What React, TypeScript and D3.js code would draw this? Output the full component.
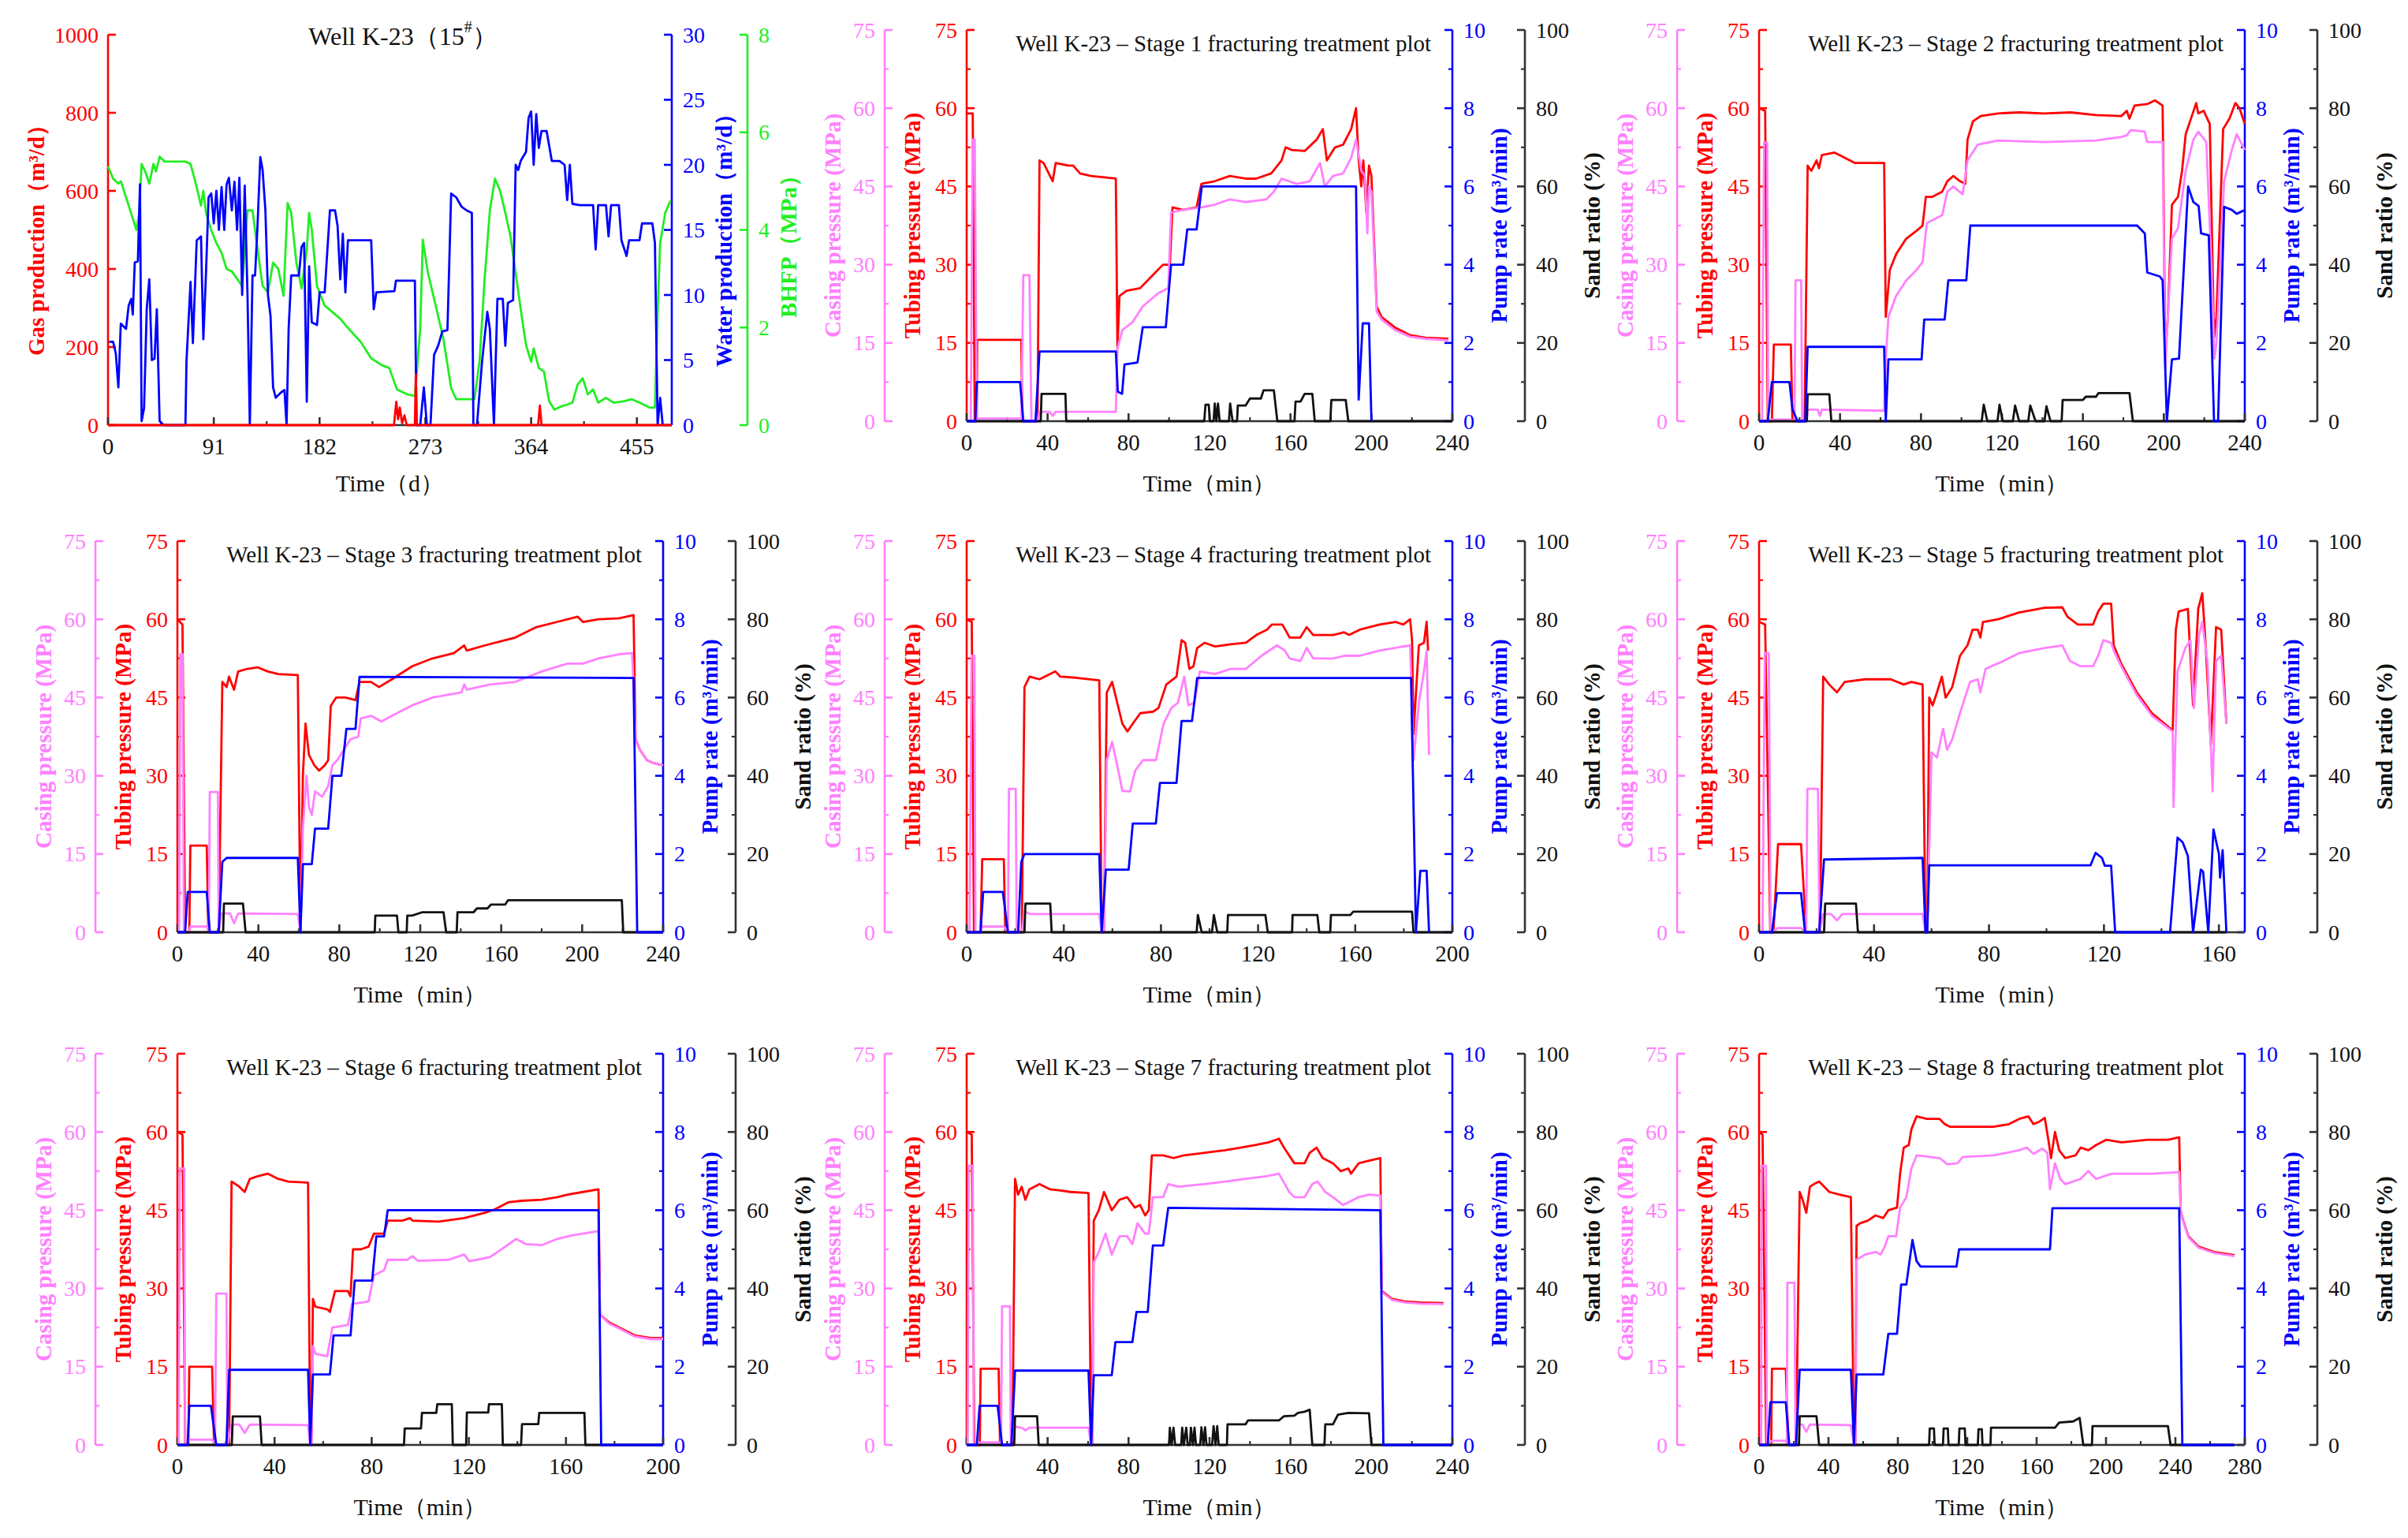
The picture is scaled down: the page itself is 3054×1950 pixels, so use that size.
import * as d3 from "d3";

type Pt = [number, number];

// ---------- tick values ----------
const pressureTicks = [0, 15, 30, 45, 60, 75];
const pressureMinor = [7.5, 22.5, 37.5, 52.5, 67.5];
const rateTicks = [0, 2, 4, 6, 8, 10];
const rateMinor = [1, 3, 5, 7, 9];
const sandTicks = [0, 20, 40, 60, 80, 100];
const sandMinor = [10, 30, 50, 70, 90];
const dayTicks = [0, 91, 182, 273, 364, 455];
const gasTicks = [0, 200, 400, 600, 800, 1000];
const waterTicks = [0, 5, 10, 15, 20, 25, 30];
const bhfpTicks = [0, 2, 4, 6, 8];

// ---------- production history (well K-23) ----------
const gasProd: Pt[] = [[0,0],[246,0],[248,60],[249.5,15],[251,45],[253,5],[255,25],[257,0],[264,0],[264.8,130],[265.6,0],[370,0],[371.5,50],[373,0],[485,0]];
const waterProd: Pt[] = [[0.9,6.4],[4.4,6.4],[6.7,5.5],[8.9,2.9],[11,7.8],[15.5,7.4],[17.8,9.2],[20,9.7],[21.3,8.5],[23,12.5],[25.7,12.6],[27.5,18.5],[28.9,0.3],[31,1.3],[33.3,8.9],[35.5,11.2],[37.7,5],[40,5.1],[42,8.9],[44.4,0.3],[48,0],[66.6,0],[67.5,4.9],[71,11],[73,6.3],[76.3,14.2],[80,14.5],[82,6.6],[84.3,11.7],[86.5,17.5],[88.8,17.8],[91,15.5],[93.2,18],[95.4,15],[97.7,18.3],[100,15],[102,18.5],[104,19],[106.5,16.5],[108.8,18.7],[111,15],[113,19],[115.4,10],[117.6,18.4],[120,10],[122,0],[124.3,11.5],[126.5,11.5],[128.7,15.5],[131,20.6],[133,19.6],[135.4,16.5],[137.6,10],[139.8,8.4],[142,2.9],[144.3,2.1],[148.7,2.5],[151.8,2.7],[153.6,0],[155.4,7.4],[157.6,11.5],[164.2,11.5],[166.5,13.7],[168.7,14],[171,1.8],[173,12.2],[175.3,7.9],[179.8,7.7],[182,10.2],[186.4,10.2],[190.9,16.5],[195.3,16.5],[197.5,15.3],[199.8,11.2],[202,14.7],[204.2,10.2],[206.4,14.2],[226.4,14.2],[228.6,8.9],[230.8,10.2],[246.4,10.3],[247.7,11.1],[264,11.1],[265.4,0],[268.6,0],[271.7,2.9],[274.3,0],[277.4,0],[280.5,5.4],[284,6.1],[287.6,7.2],[292,7.3],[293.9,13.5],[295.2,17.8],[299.6,17.5],[304,16.8],[308.5,16.5],[313,16.3],[314.3,0],[317.4,0],[321.8,4.9],[326.3,8.7],[328.5,7.4],[332,0],[335,9.7],[339.6,9.7],[341.8,6.1],[344,9.4],[348.5,9.6],[350.7,20],[352.9,19.6],[355,20.3],[359.6,21],[361.8,23.6],[364,24.1],[366.2,20],[368.4,23.9],[370.6,21.3],[372.9,22.6],[377.3,22.6],[381.8,20.3],[388.4,20.3],[392.8,20],[395,17.3],[397.3,20],[399.5,17],[406,16.9],[417.3,16.9],[419.5,13.5],[421.7,16.9],[428.4,16.9],[430.6,14.5],[432.8,16.9],[439.5,16.9],[441.7,14.2],[446.1,13],[448.3,14.2],[457.2,14.2],[459.4,15.5],[468.3,15.5],[470.5,14],[472.8,0],[475,2.1],[477.2,0]];
const bhfp: Pt[] = [[0,5.3],[4.4,5.05],[8.9,4.95],[11,5.0],[17.8,4.5],[24.4,4.0],[26.6,4.3],[28.9,5.35],[32,5.2],[35.5,4.95],[39,5.35],[41.3,5.2],[44.4,5.5],[48.8,5.4],[66.6,5.4],[71,5.35],[75.5,4.95],[80,4.5],[82,4.8],[84.3,4.35],[88.8,4.0],[93.2,3.73],[97.7,3.53],[102,3.2],[106.5,3.15],[111,3.0],[115.4,2.85],[120,4.4],[124.3,4.4],[128.7,3.6],[133,2.85],[137.6,2.72],[142,3.33],[146.5,3.2],[151,2.65],[154.5,4.55],[157.6,4.35],[162,3.33],[166.5,2.8],[171,3.6],[173,4.35],[175.3,4.0],[179.8,2.85],[186.4,2.45],[199.8,2.18],[204.2,2.05],[217.5,1.7],[226.4,1.37],[235.3,1.23],[242,1.17],[248.6,0.73],[257.5,0.63],[264,0.6],[268.6,1.98],[270.8,3.8],[275.2,3.12],[281.9,2.45],[288.5,1.77],[295.2,0.76],[299.6,0.53],[315.2,0.53],[319.6,1.3],[324,3.0],[328.5,4.4],[332.9,5.05],[337.3,4.8],[341.8,4.35],[346.2,3.87],[350.7,3.12],[355,2.38],[359.6,1.64],[364,1.3],[366.2,1.57],[370.6,1.17],[375,1.1],[379.5,0.49],[384,0.32],[390.6,0.39],[395,0.42],[399.5,0.46],[404,0.83],[408.4,0.96],[412.8,0.63],[417.3,0.73],[421.7,0.46],[428.4,0.56],[435,0.46],[444,0.49],[450.6,0.53],[457.2,0.46],[466,0.36],[470.5,0.36],[472.8,2.3],[475,3.73],[479.4,4.35],[483.9,4.6]];

// ---------- stage 1 ----------
const tubing1: Pt[] = [[0,59],[3,59],[4,0],[5,0],[5.2,15.6],[27,15.6],[27.5,0],[35,0],[36,50],[38,49.5],[42.5,46],[44,49.5],[50,49],[52.6,49],[56,47.5],[61.5,47],[73.7,46.5],[74.5,14],[75.5,24],[79,25],[85.7,25.5],[92,28],[97,30],[100.4,30],[101.7,41],[107,40.5],[113.6,41],[116,45.5],[122.5,46],[130,47],[137.8,46.5],[143,46.5],[150.5,47.5],[155.6,50],[157.6,52.5],[160.6,52],[167,51.8],[173,54],[176,56],[178,50],[182,52.5],[186,53],[190,56],[192.4,60],[193.7,50],[195,45],[196,50],[197.5,40],[198.8,49],[200,47],[202.6,22],[205,20],[211.5,18],[219,16.5],[226.7,16],[238,15.8]];
const casing1: Pt[] = [[0,0],[2,0],[3,54],[4,54],[5,0],[5.5,0.5],[27,0.5],[28,28],[31,28],[32,0],[35,0],[36,1.8],[41,1.8],[42.5,1],[44,1.8],[73.7,1.8],[74.5,14],[77,17.5],[82,19],[87,22],[94.5,24.5],[99.6,25.5],[101,40],[107,40.5],[116,41],[122.5,41.5],[130,42.5],[137.8,42],[148,42.5],[151.8,44],[155.6,46.5],[163,45.5],[169.5,46],[174.6,49.5],[177,45],[181,47],[186,47.5],[190,50.5],[192.4,54],[195,48],[196.8,47],[198,36],[198.8,45],[200,44],[202.6,21],[205,19.5],[211.5,17.5],[219,16.2],[226.7,15.8],[238,15.5]];
const rate1: Pt[] = [[0,0],[4.3,0],[5,1.0],[26.4,1.0],[28,0],[34,0],[36,1.78],[73.7,1.78],[74.7,0.75],[76.8,0.7],[78,1.45],[84.4,1.5],[87,2.4],[98.4,2.4],[101,4.0],[107,4.0],[109,4.9],[113.6,4.9],[116.2,6.0],[192.4,6.0],[193.7,0.55],[195.7,2.5],[198.8,2.5],[200,0]];
const sand1: Pt[] = [[0,0],[36.6,0],[37,7],[48.8,7],[49.2,0],[117.4,0],[118,4.2],[119.6,4.2],[120.2,0],[122,0],[122.6,4.5],[123.4,0],[124.2,4.5],[125,0],[129.6,0],[130.2,4.5],[131.4,0],[133.6,0],[134,4],[137.8,4],[140,5.8],[145.4,5.8],[146.7,7.9],[151.8,7.9],[153.5,0],[162,0],[162.5,5],[165,5],[167,7],[170.8,7],[172,0],[179.7,0],[180.2,5.4],[187.3,5.4],[188.6,0],[240,0]];

// ---------- stage 2 ----------
const tubing2: Pt[] = [[0,60],[3,59.5],[4.3,0],[6.3,0],[7.3,14.7],[15.7,14.7],[16.5,0],[22.5,0],[24,49],[25.8,48],[28.4,50],[29.6,48.5],[31,51],[37.3,51.5],[42.3,50.5],[47.4,49.5],[61.8,49.5],[62.6,20],[64.6,29],[67.7,32],[72.7,35],[77.8,36.5],[80.8,37.5],[82.4,43],[85.4,43],[90.5,44],[93,46],[96,47],[99.3,46],[101.9,45.5],[103,54],[105.7,57.5],[109.5,58.5],[118,59],[128.5,59.2],[141,59],[153.8,59.2],[166.5,58.7],[179,58.5],[181.7,59.5],[183,58],[185.5,60.5],[191.8,60.8],[195.6,61.5],[199.4,60.5],[200.7,13],[202,20],[204,41.5],[207,43],[209,48],[210.8,55],[213.4,58],[216,61],[217,59],[219.7,59.5],[222.7,57],[224.8,16],[226,20],[229.3,56],[232.4,58],[235.4,61],[237.4,60],[240,57]];
const casing2: Pt[] = [[0,0],[1.5,0],[2.5,53.4],[4,53.4],[4.5,0],[6.3,0.3],[15.7,0.3],[17.5,0],[18,27],[20.8,27],[21.3,0],[23.5,0],[24,2.2],[29,2.2],[30,1],[31,2.2],[61.8,2],[62.6,12],[63.9,20],[67.7,24],[72.7,27],[77.8,29],[80.8,30.5],[82.9,38],[90.5,39.5],[93,44],[96,45],[100.6,43.5],[103,50],[108,53],[118,53.8],[141,53.5],[166.5,53.8],[179,54.5],[181.7,54.8],[183.7,55.8],[190.5,55.5],[191.8,53.5],[199.4,53.5],[200.7,10],[202,20],[204,35],[207,37],[210.8,48],[214.6,54],[217,55.5],[221,53.5],[223.5,30],[225,12],[226,15],[229.8,46],[233.6,52],[236,55],[240,52]];
const rate2: Pt[] = [[0,0],[4.3,0],[6.3,1.0],[15,1.0],[16.5,0.3],[19,0],[22.8,0],[24,1.9],[61.8,1.9],[62.6,0],[63.9,1.58],[80.3,1.58],[81.6,2.6],[91.7,2.6],[93.5,3.6],[102.4,3.6],[104.4,5.0],[186.8,5.0],[190.6,4.8],[191.8,3.8],[198,3.7],[199.4,3.6],[201.5,0],[204,1.58],[207.5,1.6],[212,6.0],[214.6,5.6],[217.2,5.5],[218.4,4.8],[222.2,4.75],[224.8,0],[226.8,0],[229.8,5.48],[233.6,5.4],[236,5.3],[240,5.4]];
const sand2: Pt[] = [[0,0],[23.6,0],[24,6.9],[34.7,6.9],[35.7,0],[110,0],[111,4.2],[112.8,0],[117.8,0],[118.8,4.2],[120.4,0],[125.4,0],[126.5,4],[128.5,0],[133,0],[134,4],[136.6,0],[141,0],[142,3.8],[144,0],[149.5,0],[150,5.4],[160,5.4],[161.4,6.25],[166.5,6.25],[167.7,7.2],[183,7.2],[184.7,0],[240,0]];

// ---------- stage 3 ----------
const tubing3: Pt[] = [[0,60],[2.5,59],[3.8,0],[5.9,0],[6.4,16.6],[14.5,16.6],[15.3,0],[20.4,0],[22.2,48],[24.3,47],[25.5,49],[28,46.5],[30,50],[34.5,50.5],[39.6,50.8],[44.7,50],[49.8,49.5],[59.5,49.3],[60.8,0],[62,30],[63.3,40],[65,34],[67.7,32],[70,31],[72.8,32],[74.5,33],[75.8,43.4],[78.4,45],[83,45],[88,44.5],[90,48],[95.7,48],[99.6,47],[106,48.5],[116,51],[126,52.5],[136.6,53.5],[141.7,55],[143,54],[152,55],[162,56],[167,56.5],[177.4,58.5],[187.6,59.5],[197.8,60.5],[200.4,59.5],[208,60],[218.3,60.2],[225.4,60.8],[226.4,37],[228.5,35],[232,33],[234.8,32.5],[240,32]];
const casing3: Pt[] = [[0,0],[0.8,0],[1.5,53.3],[2.5,53.3],[3.2,0],[5.9,0],[6.4,1.1],[14.5,1.1],[15.5,0],[16,26.9],[20,26.9],[20.4,0],[21.7,3.6],[26,3.6],[28,1.75],[30,3.6],[59.5,3.5],[60.8,0],[62,19.9],[63.8,30],[65,24],[66.4,22.5],[68,27],[71.5,26],[74.5,28],[76.6,32],[79,33],[85.5,37],[89.4,37.5],[90.6,41],[95.7,41.5],[100.8,40.4],[106,41.5],[116,43.5],[126,45],[140.4,46],[141.7,47.5],[143,46.5],[154.5,47.5],[167,48],[180,50],[192.7,51.5],[200.4,51.5],[208,52.5],[218.3,53.3],[224.7,53.5],[226.4,37],[228.5,35],[232,33],[234.8,32.5],[240,32]];
const rate3: Pt[] = [[0,0],[3.8,0],[5.1,1.03],[14.5,1.03],[16,0],[20.4,0],[22.2,1.8],[24.3,1.9],[59.5,1.9],[60.8,0],[62,1.74],[66.4,1.74],[68,2.65],[74.5,2.65],[76.6,4.0],[81,4.0],[83.5,5.2],[88,5.2],[90,6.53],[225.4,6.5],[227.2,0],[240,0]];
const sand3: Pt[] = [[0,0],[22.6,0],[23,7.35],[32.4,7.35],[33.7,0],[97.5,0],[97.8,4.25],[108.5,4.25],[109.2,0],[113.3,0],[113.6,4.25],[116,4.25],[120.8,5.1],[131.5,5.1],[132.8,0],[138,0],[138.4,5.1],[146.3,5.1],[148,6.1],[153.2,6.1],[155,7.1],[162,7.1],[163.4,8.2],[219.6,8.2],[220.3,0],[240,0]];

// ---------- stage 4 ----------
const tubing4: Pt[] = [[0,60],[2.1,59.5],[3,0],[5.7,0],[6.4,14],[15.3,14],[15.9,0],[22.7,0],[23.8,47],[25.9,49],[30,48.5],[36.5,50],[38.6,49],[45,48.8],[54.6,48.3],[55.6,0],[56.5,0],[57.7,46],[59.9,48],[62,44],[64.1,40],[66.2,38.5],[68.4,40],[71.5,42],[76.8,42.3],[79,43],[82.2,47.5],[86.4,49],[88.5,56],[90,55.5],[91.7,50.5],[93.4,51],[94.9,54.5],[98,55.5],[102.3,54.8],[108.7,55.2],[115,55.5],[119.3,57],[123.6,58],[125.7,59],[130,59],[133,56.5],[137.4,56.5],[140,58.5],[142.7,57],[151,57],[155.4,57.5],[157.5,57],[161.8,58],[170,59],[176.6,59.5],[179.8,59],[182.6,60],[183.4,56],[184,38],[186.2,55],[188.3,55.5],[189.4,59.5],[190,54]];
const casing4: Pt[] = [[0,0],[1.2,0],[2,53],[3.2,53],[3.6,0],[5.7,0],[6.4,1.1],[15.3,1.1],[17,0],[17.4,27.5],[20.2,27.5],[20.6,0],[22.7,0],[23.8,4],[26,3.5],[54.6,3.5],[55.6,0],[56.5,0],[57.7,33],[59.9,36.5],[62,32],[64.1,27.1],[67.3,27],[69.4,31],[72.6,33],[77.9,33],[81.1,40],[84.3,43],[87,44],[89.6,49],[91.3,43.5],[93.8,44],[96,50],[102.3,49.5],[108.7,50.5],[115,50.5],[121.4,53],[127.8,55],[131,54],[133,52.5],[137.4,52],[140,54.5],[142.7,52.5],[151,52.5],[155.4,53],[161.8,53],[170,54],[182.6,55],[183.4,42],[184,33],[186.2,44],[188.3,50],[189.4,54],[190.4,34]];
const rate4: Pt[] = [[0,0],[5.7,0],[6.8,1.03],[14.9,1.03],[17,0],[21.2,0],[22.5,1.8],[23.8,2.0],[54.6,2.0],[55.6,0],[57.3,1.6],[66.7,1.6],[68.4,2.78],[77.9,2.78],[79.6,3.82],[86.4,3.82],[88.5,5.4],[92.8,5.4],[94.9,6.5],[183,6.5],[185,0],[186.8,1.57],[189.4,1.57],[190.4,0]];
const sand4: Pt[] = [[0,0],[23.8,0],[24.2,7.35],[34.4,7.35],[35,0],[94.7,0],[95.2,4.4],[96.8,0],[101,0],[101.8,4.4],[103.2,0],[107.3,0],[107.6,4.4],[123,4.4],[124,0],[134,0],[134.2,4.4],[144.4,4.4],[145.2,0],[149.7,0],[150,4.4],[158,4.4],[159.2,5.26],[183.4,5.26],[184,0],[200,0]];

// ---------- stage 5 ----------
const tubing5: Pt[] = [[0,59.5],[2.1,59],[3.9,0],[5,0],[6.6,16.9],[14.6,16.9],[16.4,0],[21.2,0],[22.3,49],[24.4,47.5],[27.1,46],[29.8,48],[36.9,48.5],[45.8,48.5],[50.3,47.5],[53,48],[56.9,47.5],[57.9,0],[58.5,0],[59.2,45],[60.4,43.5],[61.9,46],[63.6,49],[64.9,45],[67.2,47],[69.9,53],[72.5,55],[74.3,58],[76.1,58],[77,56.5],[77.9,59.5],[83.2,60],[90.4,61.3],[99.3,62.2],[105.5,62.3],[107.3,60.5],[110.9,59],[116.2,59],[118,61.5],[119.8,63],[122.5,63],[123.4,55],[126,51.5],[131.4,46],[136.7,42],[143.9,38.7],[145,58],[146,61.5],[149.2,62],[151,43.5],[152.8,62],[154.2,65],[155.4,55],[157.2,36],[159,58.5],[160.8,58],[162.6,40]];
const casing5: Pt[] = [[0,0],[1.2,0],[2,53.5],[3.4,53.5],[4,0],[6.6,0.8],[14.6,0.8],[16.4,0],[16.8,27.5],[20.5,27.5],[21,0],[22.3,3.5],[25,3.5],[27.1,2.3],[29,3.5],[56.9,3.5],[57.9,0],[58.5,0],[60,34.5],[61.9,33.5],[64,39],[65.4,35],[67.2,37],[69.9,42],[73.4,48],[76.1,48.5],[77,46],[78.8,50.5],[85,52],[90.4,53.5],[99.3,54.5],[105.5,55],[108.2,52],[111.8,51],[116.2,51],[118,53],[119.8,56],[122.5,55.5],[123.4,54],[126,51],[131.4,45.5],[136.7,41.5],[143.9,38.5],[144.2,24],[145.6,50],[148.3,54.5],[150.1,56],[151.3,43],[153.1,57],[154.2,59.5],[156,52],[157.8,27],[159,52],[160.8,53],[162.6,40]];
const rate5: Pt[] = [[0,0],[4.5,0],[6.2,1.0],[14.6,1.0],[16,0],[20.9,0],[22.6,1.86],[56.9,1.9],[57.9,0],[58.5,0],[59.2,1.71],[115.3,1.71],[117.1,2.03],[119.3,1.9],[120.3,1.7],[122.5,1.7],[123.9,0],[143,0],[145.6,2.42],[147.4,2.3],[149.2,1.95],[151,0],[153.7,1.6],[154.5,1.55],[156.3,0],[158.1,2.63],[160,2.0],[160.4,1.4],[161.3,2.1],[162.6,0]];
const sand5: Pt[] = [[0,0],[22.6,0],[23,7.35],[33.7,7.35],[34.4,0],[162.6,0]];

// ---------- stage 6 ----------
const tubing6: Pt[] = [[0,60],[2.1,59.5],[3.2,0],[4.5,0],[4.9,15],[14.3,15],[15.1,0],[21.3,0],[22.3,50.5],[25.5,49.5],[27.7,48.5],[29.8,51],[33,51.5],[37.2,52],[41.5,51],[45.7,50.5],[53.8,50.3],[54.7,0],[55.2,0],[55.8,28],[56.8,26.5],[61.7,26],[62.8,25.5],[64.9,29.5],[70.2,29.5],[71.3,28.5],[72.3,37.5],[75.5,37.5],[78.7,38],[80.9,40.5],[85.1,40.5],[86.6,43],[92.6,43],[95.8,43.5],[96.8,43],[107.5,42.8],[118.1,43.5],[126.6,44.5],[130.9,45.2],[136.2,46.5],[141.5,46.8],[150,47],[156.4,47.5],[160.7,48],[167,48.5],[173.4,49],[174,25],[177.7,23.5],[182,22.5],[188.3,21],[194.7,20.5],[200,20.5]];
const casing6: Pt[] = [[0,0],[0.5,0],[1,53],[2.8,53],[3.2,0],[4.9,1],[14.3,1],[15.5,0],[16,29],[20.2,29],[20.6,0],[22.3,3.9],[25.5,3.9],[27.7,2.3],[29.8,3.9],[53.8,3.8],[54.7,0],[55.2,0],[55.8,19],[56.8,17.5],[61.7,17],[63.8,22.5],[70.2,23],[71.9,27],[78.7,27.5],[80.9,32.5],[85.1,33.5],[86.6,35.5],[94.7,35.5],[96.8,36.2],[99,35.3],[111.7,35.5],[118.1,36.5],[120.2,35.2],[128.7,36],[135,38],[139.4,39.5],[143.6,38.5],[150,38.3],[156.4,39.5],[162.8,40.2],[173.4,41],[174,25],[177.7,23.3],[182,22.3],[188.3,20.8],[194.7,20.3],[200,20.3]];
const rate6: Pt[] = [[0,0],[4.2,0],[4.9,1.0],[13.8,1.0],[16,0],[20.2,0],[21.3,1.92],[53.8,1.92],[54.7,0],[55.8,1.8],[62.8,1.8],[64.3,2.8],[71.3,2.8],[73,4.2],[80.2,4.2],[81.9,5.33],[85.1,5.33],[86.6,6.0],[173.4,6.0],[174.5,0],[200,0]];
const sand6: Pt[] = [[0,0],[22.4,0],[22.8,7.3],[34,7.3],[34.7,0],[93.3,0],[93.6,4.2],[100.3,4.2],[100.7,8.2],[106.6,8.2],[107,10.4],[113,10.4],[113.4,0],[118.9,0],[119.2,8.3],[128,8.3],[128.3,10.4],[133.6,10.4],[134,0],[141.5,0],[141.9,5.3],[148.6,5.3],[149,8.2],[167.6,8.2],[168,0],[200,0]];

// ---------- stage 7 ----------
const tubing7: Pt[] = [[0,60],[2.5,59.5],[3.8,0],[6.5,0],[6.9,14.6],[15.8,14.6],[16.5,0],[22.6,0],[23.9,51],[25.4,48],[27.2,49.5],[29,47],[31,49],[36,50],[41.2,49],[46.3,48.8],[51.3,48.5],[60.2,48.3],[61.5,0],[62,0],[62.8,43],[65.3,45],[67.9,48.5],[71.7,45],[75.5,47],[79.3,47.5],[83.1,45.5],[85.7,46],[88.2,44],[90,45],[91.5,55.5],[97.1,55.5],[102.2,55],[107.3,55.5],[117.4,56],[127.6,56.5],[135.2,57],[142.9,57.5],[149.2,58],[154.3,58.7],[156.8,57],[161.9,54],[167,54],[169.5,56],[172.9,57],[175.9,55],[181,54],[184.8,52.5],[188.6,53],[189.9,52],[193.7,54],[198.8,54.5],[204.4,55],[205.1,29.5],[210.2,28],[216.6,27.5],[224.2,27.3],[235.6,27.2]];
const casing7: Pt[] = [[0,0],[0.5,0],[1,53.5],[3,53.5],[3.5,0],[6.9,0.5],[15.8,0.5],[17,0],[17.5,26.6],[21.4,26.6],[21.8,0],[23.9,3.5],[27,3.3],[29,2.8],[31,3.3],[60.2,3.3],[61.5,0],[62,0],[62.8,35],[65.3,37],[68.6,40.5],[71.7,36.5],[75.5,40],[79.3,40],[81.9,38.5],[84.4,42.5],[88.2,40.5],[90,40.5],[92,47.5],[97.1,47.5],[99.6,50],[104.7,49.5],[117.4,50],[127.6,50.5],[137.8,51],[148,51.5],[154.3,52],[159.4,48.5],[161.9,47.5],[167,47.5],[170.8,50],[173.4,50.5],[177.2,48.5],[181,47.5],[186,46],[188.6,46.5],[193.7,47.5],[198.8,48],[204.4,47.8],[205.1,29.3],[210.2,27.8],[216.6,27.3],[224.2,27.1],[235.6,27]];
const rate7: Pt[] = [[0,0],[5,0],[6.4,1.0],[15.3,1.0],[17.5,0],[22.1,0],[23.9,1.9],[60.2,1.9],[61.5,0],[62.8,1.78],[71.7,1.78],[73.5,2.63],[81.9,2.63],[83.9,3.4],[89.5,3.4],[92,5.1],[97.1,5.1],[99.6,6.06],[204.4,6.0],[205.9,0],[240,0]];
const sand7: Pt[] = [[0,0],[23.5,0],[23.9,7.35],[34.8,7.35],[35.6,0],[100,0],[100.4,4.4],[101.3,0],[102.2,4.4],[103,0],[106,0],[106.5,4.4],[107.3,0],[108.5,4.4],[109.2,0],[110.3,0],[110.8,4.4],[111.8,0],[112.6,4.4],[113.3,0],[115.4,0],[116,4.5],[117,0],[117.8,4.5],[118.5,0],[121.3,0],[122,4.8],[123,0],[123.8,4.8],[124.5,0],[128.6,0],[128.9,5.26],[137.8,5.26],[139,6.26],[154.3,6.26],[156.8,7.35],[161.9,7.5],[163.7,8.2],[167,8.5],[169.5,9],[170.8,0],[176.8,0],[177.2,5.26],[181,5.26],[183.5,7.76],[188.6,8.2],[198.8,8.1],[200,0],[240,0]];

// ---------- stage 8 ----------
const tubing8: Pt[] = [[0,60],[2,59.5],[4.1,0],[7,0],[7.4,14.6],[15.4,14.6],[16.9,0],[21.3,0],[23.4,48.5],[25.1,47],[27.2,44.5],[29.3,49.5],[31.6,50],[34.6,50.5],[37.6,49.5],[40.5,48.5],[46.4,48],[52.9,47.5],[54.7,0],[55.5,0],[56.2,42],[58.3,42.5],[62.7,43],[67.1,44],[71.6,43.5],[74.5,45],[79.5,45.5],[81.3,52],[83.4,57],[86.3,57.5],[87.8,60.5],[90.8,63],[96.7,62.5],[104.1,62.5],[107,61.5],[110,61],[120.3,61],[135.1,61],[144,61.5],[149.9,62.5],[155.2,63],[158.2,61.5],[161.7,62],[164.7,62.7],[167,58],[168.3,55],[170.6,60],[173,56.5],[176.5,55],[182.4,55.5],[185.4,57],[189.8,56.5],[194.3,57.5],[200.2,58.5],[209,58],[223.8,58.5],[235.7,58.5],[242.2,59],[243,45],[244.5,43],[247.5,40],[253.4,38],[262.3,37],[274.1,36.4]];
const casing8: Pt[] = [[0,0],[1.2,0],[1.5,53.5],[4,53.5],[4.5,0],[7.4,0.8],[15.4,0.8],[16,0],[16.3,31.1],[20.4,31.1],[21,0],[21.3,3.9],[25,3.9],[27.2,2.5],[29.3,3.9],[52.9,3.8],[54.7,0],[55.5,0],[56.2,35.5],[61.2,36.5],[67.1,37],[70.1,36.5],[72.4,38],[74.5,40],[79,40],[81.3,45.5],[84.9,47.5],[87.8,53],[90.8,55.5],[96.7,55.3],[104.1,55],[108.5,53.8],[114.4,54],[117.4,55.2],[135.1,55.5],[149.9,56.5],[154.3,57],[158.2,55.8],[163.2,56.8],[166.2,56],[167.7,49],[170.6,54],[173.6,51],[176.5,50],[185.4,51],[189.8,52.5],[194.3,51],[203.1,52],[215,52],[226.8,52],[242.2,52.3],[243,45],[244.5,42.8],[247.5,39.8],[253.4,37.8],[262.3,36.8],[274.1,36.2]];
const rate8: Pt[] = [[0,0],[5,0],[6.5,1.09],[15.4,1.09],[17.4,0],[21.3,0],[23.4,1.92],[52.9,1.92],[54.7,0],[56.2,1.8],[71.6,1.8],[74.5,2.84],[79.5,2.84],[81.9,4.1],[84.9,4.1],[88.4,5.24],[90.8,4.7],[93.1,4.56],[113.8,4.56],[115.3,5.0],[167.7,5.0],[169.1,6.05],[242.2,6.05],[244,0],[274,0]];
const sand8: Pt[] = [[0,0],[23,0],[23.4,7.35],[33.1,7.35],[34.6,0],[98,0],[98.4,4.2],[100.8,4.2],[101.2,0],[106,0],[106.4,4.2],[108.8,4.2],[109.2,0],[115.1,0],[115.5,4.2],[118.6,4.2],[119,0],[126.1,0],[126.5,4],[128.4,4],[128.8,0],[133.4,0],[133.7,4.4],[170.6,4.4],[173,5.7],[181,6],[184.8,6.9],[186.9,0],[191.9,0],[192.2,4.8],[235.7,4.8],[237.2,0],[274,0]];

const stageTimeMax = [240, 240, 240, 200, 169, 200, 240, 280];
const stageTimeTicks = [
  [0, 40, 80, 120, 160, 200, 240],
  [0, 40, 80, 120, 160, 200, 240],
  [0, 40, 80, 120, 160, 200, 240],
  [0, 40, 80, 120, 160, 200],
  [0, 40, 80, 120, 160],
  [0, 40, 80, 120, 160, 200],
  [0, 40, 80, 120, 160, 200, 240],
  [0, 40, 80, 120, 160, 200, 240, 280],
];

// ---------- layout / style ----------
const W = 3054;
const H = 1950;
const COL_X = [225, 1226, 2231];
const ROW_Y = [38, 686, 1336];
const PLOT_W = 616;
const PLOT_H = 496;
const SLOTS: [number, number][] = [[0, 1], [0, 2], [1, 0], [1, 1], [1, 2], [2, 0], [2, 1], [2, 2]];

const PINK = "#ff80ff";
const RED = "#ff0000";
const BLUE = "#0000ff";
const GREEN = "#22ee22";
const INK = "#111";
const AXIS = "#333";
const FONT = "'Liberation Serif', 'Times New Roman', serif";
const LW = 2.8;
const TICK_FS = 28;

type Scale = d3.ScaleLinear<number, number>;

function VAxis({ x, y, ticks, minor = [], color, textColor, inward, side }: {
  x: number; y: Scale; ticks: number[]; minor?: number[]; color: string; textColor?: string;
  inward: 1 | -1; side: "left" | "right";
}) {
  const [d0, d1] = y.domain();
  return (
    <g>
      <line x1={x} x2={x} y1={y(d0)} y2={y(d1)} stroke={color} strokeWidth={2.6} />
      {ticks.map((t) => (
        <line key={"M" + t} x1={x} x2={x + inward * 10} y1={y(t)} y2={y(t)} stroke={color} strokeWidth={2.6} />
      ))}
      {minor.map((t) => (
        <line key={"m" + t} x1={x} x2={x + inward * 5} y1={y(t)} y2={y(t)} stroke={color} strokeWidth={2.2} />
      ))}
      {ticks.map((t) => (
        <text key={"l" + t} x={side === "left" ? x - 12 : x + 14} y={y(t)}
          textAnchor={side === "left" ? "end" : "start"} dominantBaseline="central"
          fontSize={TICK_FS} fill={textColor ?? color}>{t}</text>
      ))}
    </g>
  );
}

function XAxis({ x, y0, ticks, minor = [] }: { x: Scale; y0: number; ticks: number[]; minor?: number[] }) {
  const [r0, r1] = x.range();
  return (
    <g>
      <line x1={r0} x2={r1} y1={y0} y2={y0} stroke={AXIS} strokeWidth={2.6} />
      {ticks.map((t) => (
        <line key={"M" + t} x1={x(t)} x2={x(t)} y1={y0} y2={y0 - 10} stroke={AXIS} strokeWidth={2.6} />
      ))}
      {minor.map((t) => (
        <line key={"m" + t} x1={x(t)} x2={x(t)} y1={y0} y2={y0 - 5} stroke={AXIS} strokeWidth={2.2} />
      ))}
      {ticks.map((t) => (
        <text key={"l" + t} x={x(t)} y={y0 + 27} textAnchor="middle" dominantBaseline="central"
          fontSize={TICK_FS + 1} fill={INK}>{t}</text>
      ))}
    </g>
  );
}

function VLabel({ x, y, color, children }: { x: number; y: number; color: string; children: React.ReactNode }) {
  return (
    <text transform={`translate(${x},${y}) rotate(-90)`} textAnchor="middle" dominantBaseline="central"
      fontSize={29} fontWeight="bold" fill={color}>{children}</text>
  );
}

function Series({ data, x, y, color }: { data: Pt[]; x: Scale; y: Scale; color: string }) {
  const line = d3.line<Pt>().x((d) => x(d[0])).y((d) => y(d[1]));
  return <path d={line(data) ?? ""} fill="none" stroke={color} strokeWidth={LW} strokeLinejoin="round" />;
}

function StagePanel({ idx, tubing, casing, rate, sand }: {
  idx: number; tubing: Pt[]; casing: Pt[]; rate: Pt[]; sand: Pt[];
}) {
  const [row, col] = SLOTS[idx];
  const left = COL_X[col];
  const right = left + PLOT_W;
  const top = ROW_Y[row];
  const bottom = top + PLOT_H;
  const pinkX = left - 104;
  const blackX = right + 92;
  const xMax = stageTimeMax[idx];
  const ticks = stageTimeTicks[idx];

  const x = d3.scaleLinear().domain([0, xMax]).range([left, right]);
  const yP = d3.scaleLinear().domain([0, 75]).range([bottom, top]);
  const yR = d3.scaleLinear().domain([0, 10]).range([bottom, top]);
  const yS = d3.scaleLinear().domain([0, 100]).range([bottom, top]);
  const minorX = ticks.map((t) => t + 20).filter((t) => t < xMax);
  const midY = (top + bottom) / 2;

  return (
    <g>
      <VAxis x={pinkX} y={yP} ticks={pressureTicks} minor={pressureMinor} color={PINK} inward={1} side="left" />
      <VAxis x={left} y={yP} ticks={pressureTicks} minor={pressureMinor} color={RED} inward={1} side="left" />
      <VAxis x={right} y={yR} ticks={rateTicks} minor={rateMinor} color={BLUE} inward={-1} side="right" />
      <VAxis x={blackX} y={yS} ticks={sandTicks} minor={sandMinor} color={AXIS} textColor={INK} inward={-1} side="right" />
      <XAxis x={x} y0={bottom} ticks={ticks} minor={minorX} />

      <Series data={tubing} x={x} y={yP} color={RED} />
      <Series data={casing} x={x} y={yP} color={PINK} />
      <Series data={sand} x={x} y={yS} color={INK} />
      <Series data={rate} x={x} y={yR} color={BLUE} />

      <VLabel x={pinkX - 66} y={midY} color={PINK}>Casing pressure (MPa)</VLabel>
      <VLabel x={left - 69} y={midY} color={RED}>Tubing pressure (MPa)</VLabel>
      <VLabel x={right + 59} y={midY} color={BLUE}>Pump rate (m³/min)</VLabel>
      <VLabel x={blackX + 85} y={midY} color={INK}>Sand ratio (%)</VLabel>

      <text x={right - 27} y={top + 17} textAnchor="end" dominantBaseline="central" fontSize={29} fill={INK}>
        {`Well K-23 – Stage ${idx + 1} fracturing treatment plot`}
      </text>
      <text x={(left + right) / 2} y={bottom + 78} textAnchor="middle" dominantBaseline="central" fontSize={30} fill={INK}>
        Time（min）
      </text>
    </g>
  );
}

function ProductionPanel() {
  const left = 137;
  const right = 852;
  const greenX = 948;
  const top = 44;
  const bottom = 539;
  const x = d3.scaleLinear().domain([0, 485]).range([left, right]);
  const yG = d3.scaleLinear().domain([0, 1000]).range([bottom, top]);
  const yW = d3.scaleLinear().domain([0, 30]).range([bottom, top]);
  const yB = d3.scaleLinear().domain([0, 8]).range([bottom, top]);
  const midY = (top + bottom) / 2 + 6;
  const minorX = dayTicks.map((t) => t + 45.5).filter((t) => t < 485);

  return (
    <g>
      <VAxis x={left} y={yG} ticks={gasTicks} color={RED} inward={1} side="left" />
      <VAxis x={right} y={yW} ticks={waterTicks} color={BLUE} inward={-1} side="right" />
      <VAxis x={greenX} y={yB} ticks={bhfpTicks} color={GREEN} inward={-1} side="right" />
      <XAxis x={x} y0={bottom} ticks={dayTicks} minor={minorX} />

      <Series data={bhfp} x={x} y={yB} color={GREEN} />
      <Series data={waterProd} x={x} y={yW} color={BLUE} />
      <Series data={gasProd} x={x} y={yG} color={RED} />

      <VLabel x={46} y={midY} color={RED}>Gas production（m³/d）</VLabel>
      <VLabel x={918} y={midY} color={BLUE}>Water production（m³/d）</VLabel>
      <VLabel x={1000} y={midY + 8} color={GREEN}>BHFP（MPa）</VLabel>

      <text x={511} y={46} textAnchor="middle" dominantBaseline="central" fontSize={32} fill={INK}>
        Well K-23（15<tspan dy={-12} fontSize={20}>#</tspan><tspan dy={12}>）</tspan>
      </text>
      <text x={(left + right) / 2} y={bottom + 73} textAnchor="middle" dominantBaseline="central" fontSize={30} fill={INK}>
        Time（d）
      </text>
    </g>
  );
}

const stageSeries = [
  { tubing: tubing1, casing: casing1, rate: rate1, sand: sand1 },
  { tubing: tubing2, casing: casing2, rate: rate2, sand: sand2 },
  { tubing: tubing3, casing: casing3, rate: rate3, sand: sand3 },
  { tubing: tubing4, casing: casing4, rate: rate4, sand: sand4 },
  { tubing: tubing5, casing: casing5, rate: rate5, sand: sand5 },
  { tubing: tubing6, casing: casing6, rate: rate6, sand: sand6 },
  { tubing: tubing7, casing: casing7, rate: rate7, sand: sand7 },
  { tubing: tubing8, casing: casing8, rate: rate8, sand: sand8 },
];

export default function App() {
  return (
    <svg width={W} height={H} viewBox={`0 0 ${W} ${H}`}
      style={{ position: "absolute", left: 0, top: 0, background: "#fff", fontFamily: FONT }}>
      <rect width={W} height={H} fill="#fff" />
      <ProductionPanel />
      {stageSeries.map((s, i) => (
        <StagePanel key={i} idx={i} {...s} />
      ))}
    </svg>
  );
}
